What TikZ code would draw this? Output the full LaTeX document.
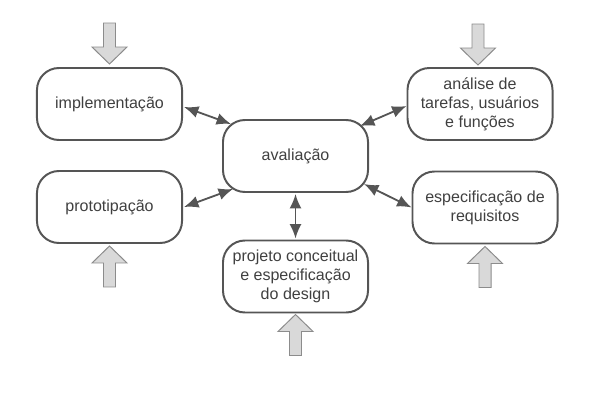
\documentclass[tikz,border=0pt]{standalone}
\usepackage{fontspec}
\setmainfont{Liberation Sans}
\usetikzlibrary{arrows.meta}

\definecolor{edgegray}{HTML}{555555}
\definecolor{txtgray}{HTML}{404040}
\definecolor{fatfill}{HTML}{D9D9D9}
\definecolor{fatline}{HTML}{8C8C8C}

\tikzset{
    box/.style={draw=edgegray, line width=1.4pt, rounded corners=0.55cm, fill=white,
        minimum width=3.625cm, minimum height=1.8cm, align=center, text=txtgray,
        font=\fontsize{11.4}{13.6}\selectfont, inner sep=2pt},
    dbl/.style={draw=edgegray, line width=1.3pt, {Latex[length=0.36cm,width=0.3cm]}-{Latex[length=0.36cm,width=0.3cm]}},
    fatin/.pic={
        \path[draw=fatline, fill=fatfill, line width=0.7pt]
            (-6,-41) -- (6,-41) -- (6,-17) -- (17.5,-17) -- (0,0)
            -- (-17.5,-17) -- (-6,-17) -- cycle;
    }
}

\begin{document}
\begin{tikzpicture}[x=0.025cm, y=-0.025cm]
\useasboundingbox (0,0) rectangle (604,413);

% the six boxes
\node[box] (impl)  at (109.5,104) {implementação};
\node[box] (proto) at (109.5,207) {prototipação};
\node[box] (aval)  at (295.5,156) {avaliação};
\node[box] (proj)  at (295.5,276.5) {projeto conceitual\\e especificação\\do design};
\node[box] (anal)  at (480,104) {análise de\\tarefas, usuários\\e funções};
\node[box] (espec) at (485,207.5) {especificação de\\requisitos};

% links to avaliacao
\draw[dbl] ([shift={(1,3)}]impl.east) -- ([shift={(9,5)}]aval.north west);
\draw[dbl] ([shift={(0,2)}]anal.west) -- ([shift={(-9,7)}]aval.north east);
\draw[dbl] ([shift={(1,0)}]proto.east) -- ([shift={(11,-4)}]aval.south west);
\draw[dbl] (espec.west) -- ([shift={(-5,-9)}]aval.south east);
\draw[dbl] ([shift={(0,1)}]aval.south) -- ([shift={(0,-1)}]proj.north);

% entry arrows
\path ([shift={(0,-3)}]impl.north) pic {fatin};
\path ([shift={(-2,-2)}]anal.north) pic {fatin};
\path ([shift={(0,2)}]proto.south) pic[rotate=180] {fatin};
\path ([shift={(0,1)}]proj.south) pic[rotate=180] {fatin};
\path ([shift={(0,2)}]espec.south) pic[rotate=180] {fatin};
\end{tikzpicture}
\end{document}
